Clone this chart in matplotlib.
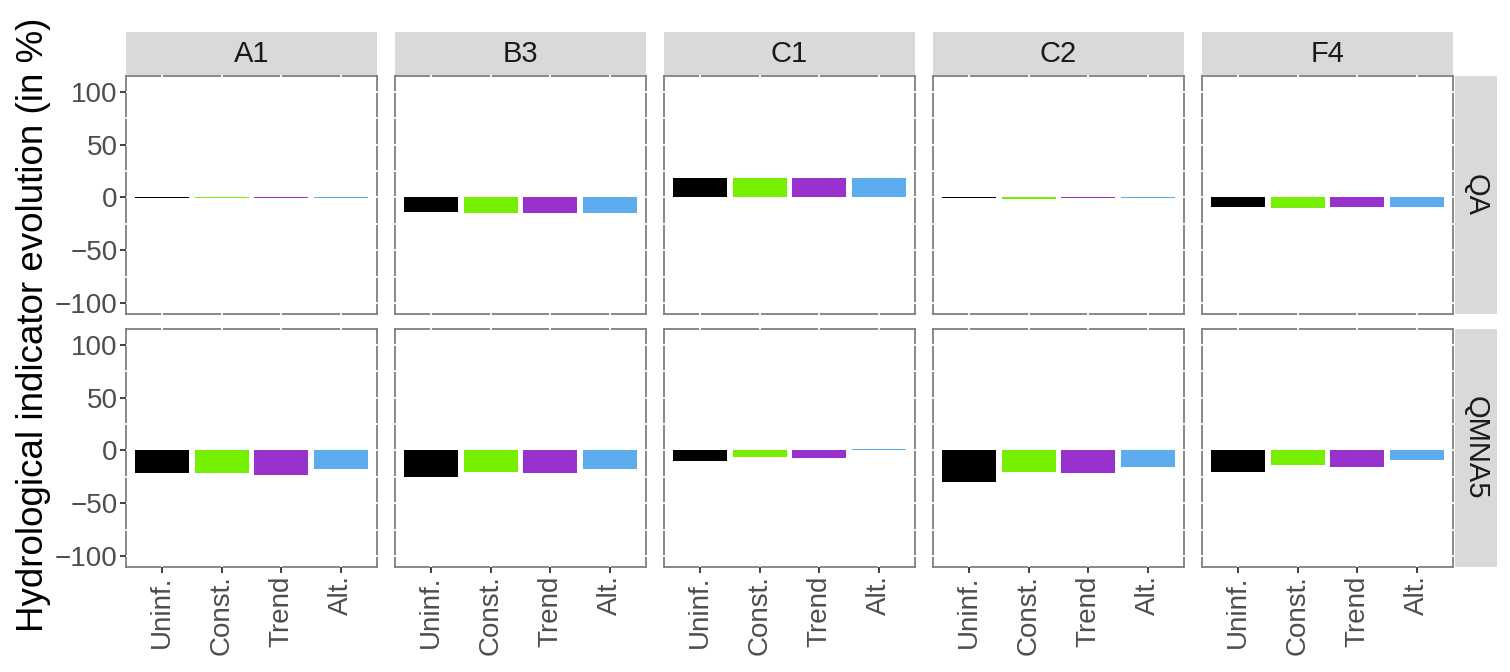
import numpy as np
import matplotlib
matplotlib.use("Agg")
import matplotlib.pyplot as plt
from matplotlib.patches import Rectangle

plt.rcParams['font.family'] = ['Liberation Sans', 'DejaVu Sans']

# facettes et catégories
sites = ['A1', 'B3', 'C1', 'C2', 'F4']
indicators = ['QA', 'QMNA5']
scenarios = ['Uninf.', 'Const.', 'Trend', 'Alt.']
colors = ['#000000', '#76EE00', '#9932CC', '#5CACEE']

# évolution (en %) par site, pour chaque indicateur
qa = {
    'A1': [-0.6, -0.4, -0.4, -0.3],
    'B3': [-14.0, -15.0, -15.0, -15.0],
    'C1': [18.7, 18.7, 18.7, 18.7],
    'C2': [-0.6, -1.2, -0.6, -0.5],
    'F4': [-8.8, -9.8, -9.0, -9.0],
}
qmna5 = {
    'A1': [-21.5, -21.5, -22.8, -18.0],
    'B3': [-24.7, -20.6, -21.5, -18.0],
    'C1': [-10.4, -6.6, -7.6, 1.2],
    'C2': [-30.1, -20.6, -21.8, -15.2],
    'F4': [-20.6, -14.2, -15.2, -9.5],
}
data = {'QA': qa, 'QMNA5': qmna5}

W, H = 1510, 672
fig = plt.figure(figsize=(W / 100, H / 100), dpi=100)

# positions en pixels
panel_left = [126, 395, 664, 933, 1202]
panel_w = 251
row_top = [76, 329]
panel_h = 238
strip_grey = '#D9D9D9'
border = '#7F7F7F'

def fx(px):
    return px / W

def fy(py):
    return 1 - py / H

x = np.arange(1, len(scenarios) + 1)

for r, ind in enumerate(indicators):
    for c, site in enumerate(sites):
        ax = fig.add_axes([fx(panel_left[c]), fy(row_top[r] + panel_h),
                           fx(panel_w), panel_h / H])
        ax.bar(x, data[ind][site], width=0.9, color=colors, zorder=3)
        ax.set_xlim(0.4, 4.6)
        ax.set_ylim(-110.5, 115.2)

        # lignes de grille blanches qui coupent le cadre
        for yv in np.arange(-100, 101, 25):
            ax.plot([-0.005, 1.005], [yv, yv], transform=ax.get_yaxis_transform(),
                    color='white', lw=1.3, clip_on=False, zorder=1)
        for xv in x:
            ax.plot([xv, xv], [-0.005, 1.005], transform=ax.get_xaxis_transform(),
                    color='white', lw=1.3, clip_on=False, zorder=1)

        for sp in ax.spines.values():
            sp.set_color(border)
            sp.set_linewidth(1.3)
            sp.set_zorder(0.5)

        ax.set_yticks([-100, -50, 0, 50, 100])
        ax.set_xticks(x)
        ax.tick_params(length=4, width=1.3, color='#333333',
                       labelsize=20, labelcolor='#4D4D4D', pad=2)
        if c == 0:
            ax.set_yticklabels(['\u2212100', '\u221250', '0', '50', '100'])
        else:
            ax.tick_params(axis='y', left=False, labelleft=False)
        if r == 1:
            ax.set_xticklabels(scenarios, rotation=90)
        else:
            ax.tick_params(axis='x', bottom=False, labelbottom=False)

# bandeaux du haut
for c, site in enumerate(sites):
    fig.patches.append(Rectangle((fx(panel_left[c]), fy(75)), fx(panel_w), 43 / H,
                                 transform=fig.transFigure, facecolor=strip_grey,
                                 edgecolor='none'))
    fig.text(fx(panel_left[c] + panel_w / 2), fy(53.5), site, ha='center', va='center',
             fontsize=21, color='#1A1A1A')

# bandeaux de droite
for r, ind in enumerate(indicators):
    fig.patches.append(Rectangle((fx(1455), fy(row_top[r] + panel_h)), fx(42), panel_h / H,
                                 transform=fig.transFigure, facecolor=strip_grey,
                                 edgecolor='none'))
    fig.text(fx(1476), fy(row_top[r] + panel_h / 2), ind, ha='center', va='center',
             rotation=-90, fontsize=21, color='#1A1A1A')

fig.text(fx(34), fy(325), 'Hydrological indicator evolution (in %)', rotation=90,
         ha='center', va='center', fontsize=26.5, color='black')

fig.savefig('out.png', dpi=100)
